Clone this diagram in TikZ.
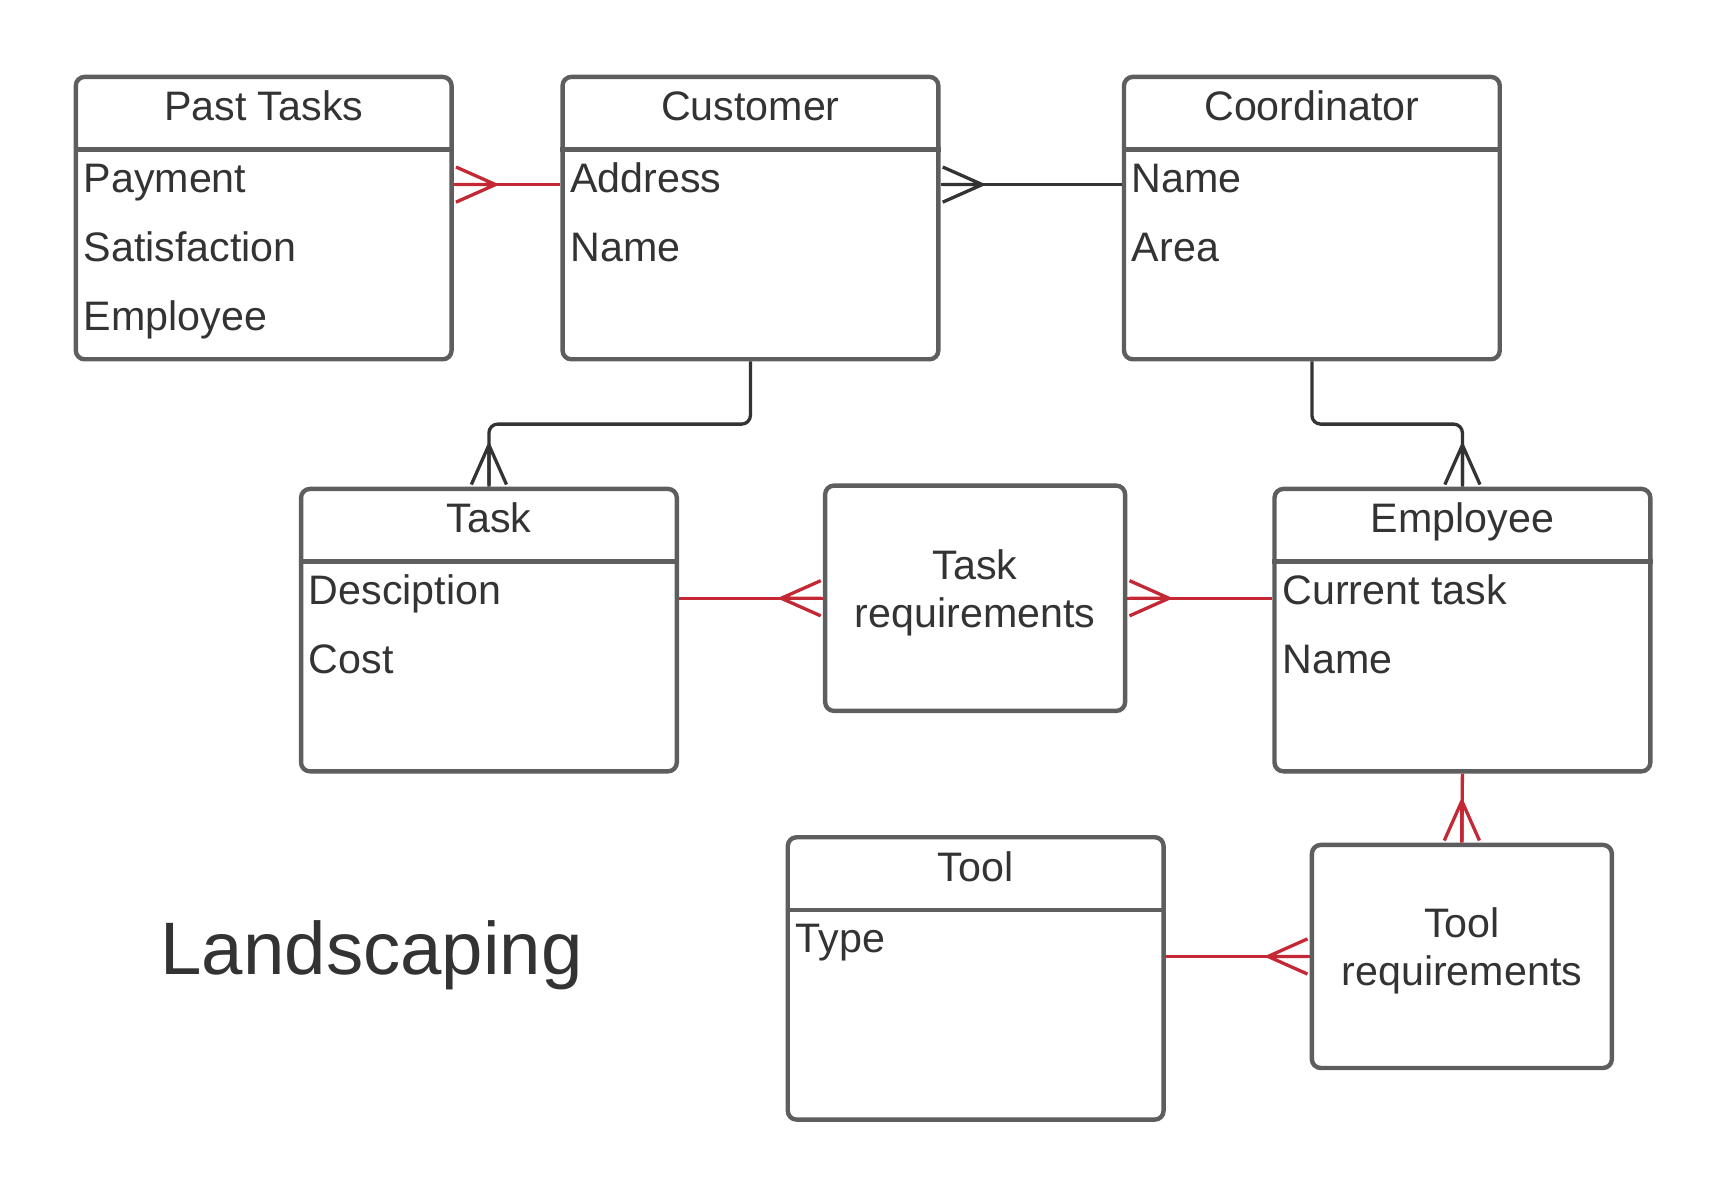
\documentclass[tikz,border=0pt]{standalone}
\usepackage{fontspec}
\setmainfont{Liberation Sans}
\usetikzlibrary{calc}
\definecolor{boxgray}{HTML}{5E5E5E}
\definecolor{darkln}{HTML}{333333}
\definecolor{ered}{RGB}{196,40,52}
\definecolor{txt}{HTML}{333333}
\tikzset{
  ebox/.style={draw=boxgray, line width=4pt, rounded corners=8pt, inner sep=0pt, minimum width=342pt, minimum height=257pt},
  rbox/.style={draw=boxgray, line width=4pt, rounded corners=8pt, inner sep=0pt, minimum width=273pt, minimum height=204pt},
  boxline/.style={draw=boxgray, line width=4pt},
  ttext/.style={text=txt, inner sep=0pt, font=\fontsize{37.5}{44}\selectfont},
  redline/.style={draw=ered, line width=3pt},
  darkline/.style={draw=darkln, line width=3pt},
  crow/.pic={\draw[#1] (36,0) -- (0,16) (36,0) -- (0,0) (36,0) -- (0,-16);}
}
\newcommand\erbox[5]{%
  \node[ebox, anchor=north west] (#1) at (#2,#3) {};
  \draw[boxline] ($(#1.north west)+(0,68)$) -- ($(#1.north east)+(0,68)$);
  \node[ttext, anchor=base] (#1-h) at ($(#1.north)+(0,42)$) {#4};
  \foreach \t [count=\i] in {#5} {
    \node[ttext, anchor=base west] (#1-a\i) at ($(#1.north west)+(9,44+63*\i)$) {\t};
  }
}
\begin{document}
\begin{tikzpicture}[x=1pt,y=-1pt]
\useasboundingbox (0,0) rectangle (1570,1086.7);
\erbox{past}{67}{68}{Past Tasks}{Payment,Satisfaction,Employee}
\erbox{cust}{510}{68}{Customer}{Address,Name}
\erbox{coord}{1021}{68}{Coordinator}{Name,Area}
\erbox{task}{272}{443}{Task}{Desciption,Cost}
\erbox{emp}{1158}{443}{Employee}{Current task,Name}
\erbox{tool}{715}{760}{Tool}{Type}
\node[rbox, anchor=north west, minimum height=205pt] (treq) at (749,440) {};
\node[ttext, align=center] (treq-t) at ($(treq.center)+(0,-5)$) {Task\\requirements};
\node[rbox, anchor=north west, minimum height=203pt] (toolreq) at (1192,767) {};
\node[ttext, align=center] (toolreq-t) at ($(toolreq.center)+(0,-5)$) {Tool\\requirements};
\node[text=txt, inner sep=0pt, anchor=base west, font=\fontsize{67.7}{80}\selectfont] (title) at (146,887) {Landscaping};
% connectors
\draw[redline] ($(past.north east)+(0,100)$) -- ($(cust.north west)+(0,100)$);
\pic at ($(past.north east)+(2,100)$) {crow=redline};
\draw[darkline] ($(cust.north east)+(0,100)$) -- ($(coord.north west)+(0,100)$);
\pic at ($(cust.north east)+(2,100)$) {crow=darkline};
\draw[darkline, rounded corners=8pt] (cust.south) |- ($(cust.south)!.5!(task.north)$) -| (task.north);
\pic[rotate=90] at ($(task.north)+(0,-2)$) {crow=darkline};
\draw[darkline, rounded corners=8pt] (coord.south) |- ($(coord.south)!.5!(emp.north)$) -| (emp.north);
\pic[rotate=90] at ($(emp.north)+(0,-2)$) {crow=darkline};
\draw[redline] (treq.west -| task.east) -- (treq.west);
\pic[rotate=180] at ($(treq.west)+(-2,0)$) {crow=redline};
\draw[redline] (treq.east) -- (treq.east -| emp.west);
\pic at ($(treq.east)+(2,0)$) {crow=redline};
\draw[redline] (emp.south) -- (toolreq.north);
\pic[rotate=90] at ($(toolreq.north)+(0,-2)$) {crow=redline};
\draw[redline] (toolreq.west -| tool.east) -- (toolreq.west);
\pic[rotate=180] at ($(toolreq.west)+(-2,0)$) {crow=redline};
\end{tikzpicture}
\end{document}
